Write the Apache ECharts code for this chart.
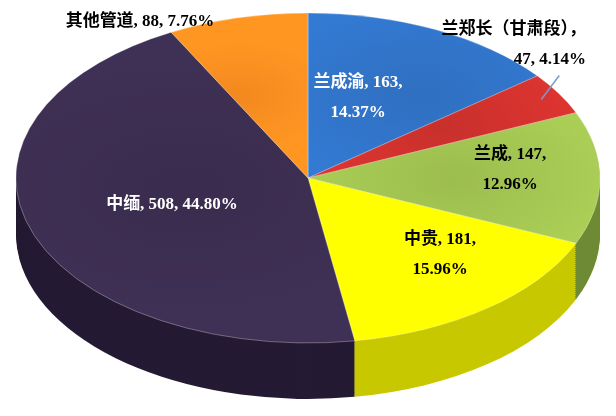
<!DOCTYPE html>
<html>
<head>
    <meta charset="utf-8">
    <title>pie3d</title>
    <style>body{margin:0;background:#fff}</style>
</head>
<body>
    <div id="main" style="width:616px;height:416px;"></div>
    <script src="https://cdn.jsdelivr.net/npm/echarts@6/dist/echarts.min.js"></script>
    <script>
        var names = ['兰成渝', '兰郑长（甘肃段）', '兰成', '中贵', '中缅', '其他管道'];
        var values = [163, 47, 147, 181, 508, 88];
        var percents = ['14.37%', '4.14%', '12.96%', '15.96%', '44.80%', '7.76%'];

        // styling only
        var topColors = ['#2f6fc0', '#c8302c', '#9cbd4f', '#ffff00', '#3a2c4e', '#f3891f'];
        var sideColors = ['#1f4f8f', '#8e1f1c', '#6f8b35', '#c8c800', '#241a33', '#b9631a'];
        var labelText = [
            '兰成渝, 163,\n14.37%',
            '兰郑长（甘肃段），\n47, 4.14%',
            '兰成, 147,\n12.96%',
            '中贵, 181,\n15.96%',
            '中缅, 508, 44.80%',
            '其他管道, 88, 7.76%'
        ];
        var labelXY = [[50, -80], [278, -133], [202, -8], [132, 77], [-136, 27], [-168, -156]];
        var labelAlign = ['center', 'right', 'center', 'center', 'center', 'center'];
        var labelColor = ['#fff', '#000', '#000', '#000', '#fff', '#000'];
        var CX = 308, CY = 178, R = 292, SY = 0.565, DEPTH = 56;

        var total = values.reduce(function (a, b) { return a + b; }, 0);
        var rows = [];
        var acc = 0;
        for (var i = 0; i < values.length; i++) {
            rows.push([i, acc, acc + values[i]]);
            acc += values[i];
        }
        function ang(v) { return -Math.PI / 2 + v / total * Math.PI * 2; }

        var myChart = echarts.init(document.getElementById('main'));
        var option = {
            animation: false,
            xAxis: { show: false },
            yAxis: { show: false },
            series: [{
                type: 'custom',
                coordinateSystem: 'none',
                data: rows,
                renderItem: function (params, api) {
                    var i = api.value(0);
                    var s = ang(api.value(1)), e = ang(api.value(2));
                    var kids = [];
                    for (var d = DEPTH; d > 0; d -= 2) {
                        kids.push({
                            type: 'sector',
                            shape: { cx: 0, cy: d / SY, r: R, startAngle: s, endAngle: e },
                            style: { fill: sideColors[i] }
                        });
                    }
                    return { type: 'group', x: CX, y: CY, scaleY: SY, children: kids };
                }
            }, {
                type: 'custom',
                coordinateSystem: 'none',
                data: rows,
                z: 3,
                renderItem: function (params, api) {
                    var i = api.value(0);
                    var s = ang(api.value(1)), e = ang(api.value(2));
                    return {
                        type: 'group', x: CX, y: CY, scaleY: SY,
                        children: [{
                            type: 'sector',
                            shape: { cx: 0, cy: 0, r: R, startAngle: s, endAngle: e },
                            style: {
                                fill: new echarts.graphic.RadialGradient(0.5, 0.5, 0.7, [
                                    { offset: 0, color: topColors[i] },
                                    { offset: 1, color: echarts.color.lift(topColors[i], -0.1) }
                                ]),
                                stroke: 'rgba(255,255,255,0.4)', lineWidth: 1
                            }
                        }]
                    };
                }
            }, {
                type: 'custom',
                coordinateSystem: 'none',
                data: rows,
                z: 5,
                renderItem: function (params, api) {
                    var i = api.value(0);
                    var m = (ang(api.value(1)) + ang(api.value(2))) / 2;
                    var kids = [{
                        type: 'text',
                        x: CX + labelXY[i][0], y: CY + labelXY[i][1],
                        style: {
                            text: labelText[i], fill: labelColor[i],
                            font: 'bold 17px "Liberation Serif", "Noto Sans CJK SC"',
                            align: labelAlign[i], verticalAlign: 'middle', lineHeight: 30
                        }
                    }];
                    if (i === 1) {
                        var ex = CX + Math.cos(m) * R * 0.93, ey = CY + Math.sin(m) * R * SY * 0.93;
                        kids.push({
                            type: 'line',
                            shape: { x1: ex, y1: ey, x2: ex + 18, y2: ey - 24 },
                            style: { stroke: '#7a9cc6', lineWidth: 1.5 }
                        });
                    }
                    return { type: 'group', children: kids };
                }
            }]
        };
        myChart.setOption(option);
    </script>
</body>
</html>
